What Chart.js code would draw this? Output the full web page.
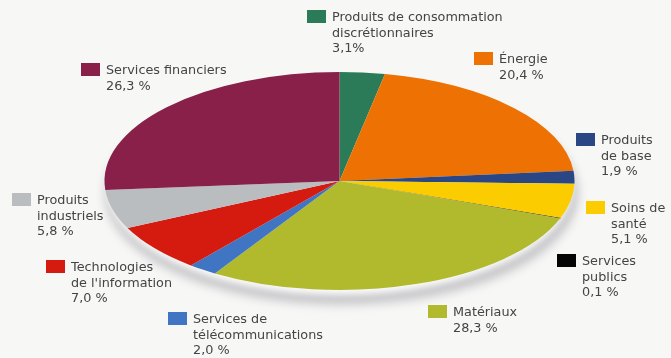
<!DOCTYPE html>
<html lang="fr">
<head>
<meta charset="utf-8">
<title>Répartition sectorielle</title>
<script src="https://cdn.jsdelivr.net/npm/chart.js@4.4.0/dist/chart.umd.min.js"></script>
<style>
    html, body { margin: 0; padding: 0; background: #f7f7f6; }
    #wrap { width: 671px; height: 358px; position: relative; }
</style>
</head>
<body>
<div id="wrap"><canvas id="sectorChart" width="671" height="358"></canvas></div>
<script>
// Slices, clockwise from 12 o'clock
const categories = [
    "Produits de consommation discrétionnaires",
    "Énergie",
    "Produits de base",
    "Soins de santé",
    "Services publics",
    "Matériaux",
    "Services de télécommunications",
    "Technologies de l'information",
    "Produits industriels",
    "Services financiers",
];
const shares = [3.1, 20.4, 1.9, 5.1, 0.1, 28.3, 2.0, 7.0, 5.8, 26.3];
const colors = [
    "#2b7b58", "#ee7203", "#2a4684", "#fbcd00", "#050505",
    "#b1b92d", "#3f75c2", "#d51a10", "#b9bdbf", "#88204a",
];

// Where each label sits and how its name wraps
const labelLayout = [
    { x: 307, y: 10, lines: ["Produits de consommation", "discrétionnaires"], tight: true },
    { x: 474, y: 52, lines: ["Énergie"] },
    { x: 576, y: 133, lines: ["Produits", "de base"] },
    { x: 586, y: 201, lines: ["Soins de", "santé"] },
    { x: 557, y: 254, lines: ["Services", "publics"] },
    { x: 428, y: 305, lines: ["Matériaux"] },
    { x: 168, y: 312, lines: ["Services de", "télécommunications"] },
    { x: 46, y: 260, lines: ["Technologies", "de l'information"] },
    { x: 12, y: 193, lines: ["Produits", "industriels"] },
    { x: 81, y: 63, lines: ["Services financiers"] },
];

const CENTER = { x: 339.5, y: 181 };
const RADIUS_X = 235;
const RADIUS_Y = 109;

function formatShare(value, tight) {
    const txt = value.toFixed(1).replace(".", ",");
    return tight ? `${txt}%` : `${txt} %`;
}

// squash the pie into an ellipse and lay a soft shadow under it
const ellipsePlugin = {
    id: "ellipse",
    beforeDatasetsDraw(chart) {
        const ctx = chart.ctx;
        ctx.save();
        ctx.filter = "blur(5px)";
        ctx.fillStyle = "rgba(160, 160, 166, 0.55)";
        ctx.beginPath();
        ctx.ellipse(CENTER.x + 2, CENTER.y + 12, RADIUS_X + 2, RADIUS_Y + 3, 0, 0, Math.PI * 2);
        ctx.fill();
        ctx.filter = "blur(3px)";
        ctx.fillStyle = "rgba(255, 255, 255, 0.9)";
        ctx.beginPath();
        ctx.ellipse(CENTER.x, CENTER.y + 5, RADIUS_X - 2, RADIUS_Y, 0, 0, Math.PI * 2);
        ctx.fill();
        ctx.restore();

        ctx.save();
        ctx.translate(CENTER.x, CENTER.y);
        ctx.scale(1, RADIUS_Y / RADIUS_X);
        ctx.translate(-CENTER.x, -CENTER.y);
    },
    afterDatasetsDraw(chart) {
        chart.ctx.restore();
    },
};

const labelPlugin = {
    id: "sliceLabels",
    afterDraw(chart) {
        const ctx = chart.ctx;
        ctx.save();
        ctx.font = "12.8px 'DejaVu Sans', Verdana, sans-serif";
        ctx.textBaseline = "middle";
        labelLayout.forEach((item, i) => {
            ctx.fillStyle = colors[i];
            ctx.fillRect(item.x, item.y, 19, 13);
            ctx.fillStyle = "#444444";
            const lines = [...item.lines, formatShare(shares[i], item.tight)];
            lines.forEach((line, j) => {
                ctx.fillText(line, item.x + 25, item.y + 8 + j * 15.5);
            });
        });
        ctx.restore();
    },
};

new Chart(document.getElementById("sectorChart"), {
    type: "pie",
    data: {
        labels: categories,
        datasets: [{
            data: shares,
            backgroundColor: colors,
            borderWidth: 0,
            radius: RADIUS_X,
            clip: false,
        }],
    },
    options: {
        responsive: false,
        animation: false,
        events: [],
        layout: { padding: { left: 8, top: 4 } },
        plugins: {
            legend: { display: false },
            tooltip: { enabled: false },
        },
    },
    plugins: [ellipsePlugin, labelPlugin],
});
</script>
</body>
</html>
